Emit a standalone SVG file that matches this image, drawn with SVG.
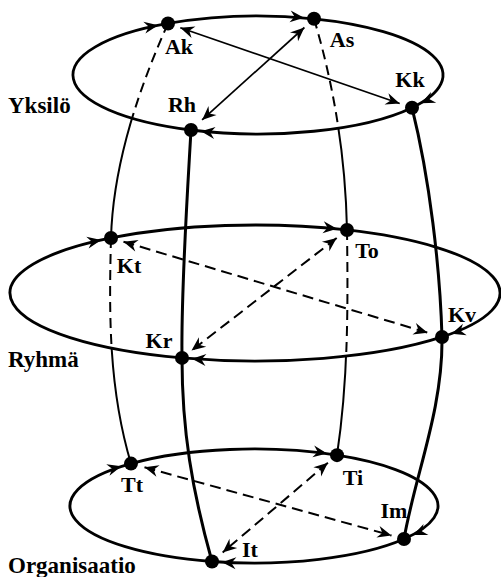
<svg xmlns="http://www.w3.org/2000/svg" width="501" height="577" viewBox="0 0 501 577">
<style>
.ring{fill:none;stroke:#000;stroke-width:2.8;marker-end:url(#ahr)}
.thin{fill:none;stroke:#000;stroke-width:2}
.thick{fill:none;stroke:#000;stroke-width:3}
.dash{fill:none;stroke:#000;stroke-width:2;stroke-dasharray:10 6}
.diag{fill:none;stroke:#000;stroke-width:1.7;marker-start:url(#ah);marker-end:url(#ah)}
.ddiag{fill:none;stroke:#000;stroke-width:2;stroke-dasharray:11 6;marker-start:url(#ah);marker-end:url(#ah)}
.dot{fill:#000}
.lbl{font-family:"Liberation Serif","Times New Roman",serif;font-weight:bold;font-size:22px;fill:#000;text-anchor:middle}
.grp{font-family:"Liberation Serif","Times New Roman",serif;font-weight:bold;font-size:23px;fill:#000}
</style>
<defs>
<marker id="ah" viewBox="-15 -7 17 14" refX="0" refY="0" markerWidth="17" markerHeight="14" markerUnits="userSpaceOnUse" orient="auto-start-reverse"><path d="M0,0 L-14,-6 L-9.5,0 L-14,6 Z" fill="#000"/></marker>
<marker id="ahr" viewBox="-15 -7 17 14" refX="10" refY="0" markerWidth="17" markerHeight="14" markerUnits="userSpaceOnUse" orient="auto"><path d="M0,0 L-14,-6 L-9.5,0 L-14,6 Z" fill="#000"/></marker>
<clipPath id="inTop"><ellipse cx="258" cy="75" rx="185" ry="59"/></clipPath>
<clipPath id="inMid"><ellipse cx="255" cy="293" rx="245" ry="68"/></clipPath>
<mask id="outTop" maskUnits="userSpaceOnUse" x="0" y="0" width="501" height="577"><rect width="501" height="577" fill="#fff"/><ellipse cx="258" cy="75" rx="185" ry="59" fill="#000"/></mask>
<mask id="outMid" maskUnits="userSpaceOnUse" x="0" y="0" width="501" height="577"><rect width="501" height="577" fill="#fff"/><ellipse cx="255" cy="293" rx="245" ry="68" fill="#000"/></mask>
<path id="l1" d="M168,23.45 C136.5,93.5 113,168 111,238"/>
<path id="l2" d="M111,238 C109,313 108.5,388.6 131,463.61"/>
<path id="r1" d="M314,18.77 C335,89 345.6,160 347,230"/>
<path id="r2" d="M347,230 C348,305 348.3,380 337,455.13"/>
</defs>
<rect width="501" height="577" fill="#fff"/>
<g id="connectors">
<path class="ring" d="M191,130 A185,59 0 0 1 168,23.45"/>
<path class="ring" d="M168,23.45 A185,59 0 0 1 314,18.77"/>
<path class="ring" d="M314,18.77 A185,59 0 0 1 412,107.69"/>
<path class="ring" d="M412,107.69 A185,59 0 0 1 191,130"/>
<path class="ring" d="M182,357.91 A245,68 0 0 1 111,237.99"/>
<path class="ring" d="M111,237.99 A245,68 0 0 1 347,229.98"/>
<path class="ring" d="M347,229.98 A245,68 0 0 1 442,336.93"/>
<path class="ring" d="M442,336.93 A245,68 0 0 1 182,357.91"/>
<path class="ring" d="M212,561.49 A184,57 0 0 1 131,463.61"/>
<path class="ring" d="M131,463.61 A184,57 0 0 1 337,455.13"/>
<path class="ring" d="M337,455.13 A184,57 0 0 1 404,539.01"/>
<path class="ring" d="M404,539.01 A184,57 0 0 1 212,561.49"/>
<use href="#l1" class="dash" clip-path="url(#inTop)"/>
<use href="#l1" class="thin" mask="url(#outTop)"/>
<use href="#l2" class="dash" clip-path="url(#inMid)"/>
<use href="#l2" class="thin" mask="url(#outMid)"/>
<use href="#r1" class="dash" clip-path="url(#inTop)"/>
<use href="#r1" class="thin" mask="url(#outTop)"/>
<use href="#r2" class="dash" clip-path="url(#inMid)"/>
<use href="#r2" class="thin" mask="url(#outMid)"/>
<path class="thick" d="M191,130 C187,200 181,290 182,357.91 C182,430 192,490 212,561.49"/>
<path class="thick" d="M412,107.69 C429.5,178 440,267 442,336.93 C443,410 415,475 404,539.01"/>
<path class="diag" d="M180.3,27.7 L399.7,103.5"/>
<path class="diag" d="M304.4,27.5 L202.1,119.9"/>
<path class="ddiag" d="M123.5,241.7 L427.6,332.7"/>
<path class="ddiag" d="M336.7,238 L191.5,350.6"/>
<path class="ddiag" d="M144.5,467.3 L391.5,535.5"/>
<path class="ddiag" d="M327.9,462.8 L222.7,552.4"/>
</g>
<g id="node-Ak"><circle class="dot" cx="168" cy="23.45" r="7"/><text class="lbl" x="179" y="54">Ak</text></g>
<g id="node-As"><circle class="dot" cx="314" cy="18.77" r="7"/><text class="lbl" x="342" y="47">As</text></g>
<g id="node-Kk"><circle class="dot" cx="412" cy="107.69" r="7"/><text class="lbl" x="410" y="87">Kk</text></g>
<g id="node-Rh"><circle class="dot" cx="191" cy="130" r="7"/><text class="lbl" x="182" y="112">Rh</text></g>
<g id="node-Kt"><circle class="dot" cx="111" cy="237.99" r="7"/><text class="lbl" x="129" y="273">Kt</text></g>
<g id="node-To"><circle class="dot" cx="347" cy="229.98" r="7"/><text class="lbl" x="367" y="258">To</text></g>
<g id="node-Kv"><circle class="dot" cx="442" cy="336.93" r="7"/><text class="lbl" x="462" y="322">Kv</text></g>
<g id="node-Kr"><circle class="dot" cx="182" cy="357.91" r="7"/><text class="lbl" x="159" y="348">Kr</text></g>
<g id="node-Tt"><circle class="dot" cx="131" cy="463.61" r="7"/><text class="lbl" x="132" y="492">Tt</text></g>
<g id="node-Ti"><circle class="dot" cx="337" cy="455.13" r="7"/><text class="lbl" x="353" y="485">Ti</text></g>
<g id="node-Im"><circle class="dot" cx="404" cy="539.01" r="7"/><text class="lbl" x="394" y="518">Im</text></g>
<g id="node-It"><circle class="dot" cx="212" cy="561.49" r="7"/><text class="lbl" x="250" y="557">It</text></g>
<g id="levels">
<text class="grp" x="8" y="113">Yksilö</text>
<text class="grp" x="8" y="367">Ryhmä</text>
<text class="grp" x="8" y="573">Organisaatio</text>
</g>
</svg>
